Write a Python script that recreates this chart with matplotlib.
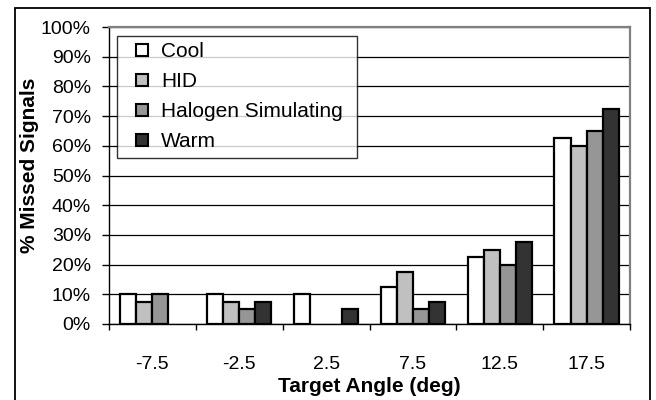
import numpy as np
import matplotlib
matplotlib.use("Agg")
import matplotlib.pyplot as plt
from matplotlib.lines import Line2D
from matplotlib.patches import Rectangle

plt.rcParams['font.family'] = ['Liberation Sans', 'DejaVu Sans']

# missed signal rates (%) per target angle, None = no bar
angles = ['-7.5', '-2.5', '2.5', '7.5', '12.5', '17.5']
cool = [10, 10, 10, 12.5, 22.5, 62.5]
hid = [7.5, 7.5, None, 17.5, 25, 60]
halogen = [10, 5, None, 5, 20, 65]
warm = [None, 7.5, 5, 7.5, 27.5, 72.5]

series = [('Cool', cool, '#ffffff'),
          ('HID', hid, '#c0c0c0'),
          ('Halogen Simulating', halogen, '#969696'),
          ('Warm', warm, '#333333')]

fig = plt.figure(figsize=(6.56, 4.0), dpi=100)
ax = fig.add_axes([109/656, 1 - 324/400, 521/656, 297/400])

bw = 0.185
x = np.arange(len(angles))
handles = []
for i, (name, vals, col) in enumerate(series):
    xs = [xi + (i - 1.5) * bw for xi, v in zip(x, vals) if v is not None]
    hs = [v for v in vals if v is not None]
    ax.bar(xs, hs, width=bw, color=col, edgecolor='black', linewidth=1.6, zorder=3)
    handles.append(Line2D([], [], linestyle='none', marker='s', markersize=9,
                          markerfacecolor=col, markeredgecolor='black',
                          markeredgewidth=1.5, label=name))

ax.set_xlim(-0.5, len(angles) - 0.5)
ax.set_ylim(0, 100)
ax.set_yticks(np.arange(0, 101, 10))
ax.set_yticklabels(['%d%%' % v for v in range(0, 101, 10)])
ax.set_xticks(x)
ax.set_xticklabels(angles)
ax.set_xticks(np.arange(-0.5, len(angles), 1), minor=True)

ax.tick_params(axis='y', direction='out', length=5, width=1, pad=8, labelsize=14)
ax.tick_params(axis='x', which='major', length=0, pad=23, labelsize=14)
ax.tick_params(axis='x', which='minor', direction='out', length=4.5, width=1)

ax.yaxis.grid(True, color='black', linewidth=0.9)
ax.set_axisbelow(True)

for s in ['top', 'right']:
    ax.spines[s].set_color('#808080')
    ax.spines[s].set_linewidth(1.6)
for s in ['left', 'bottom']:
    ax.spines[s].set_color('black')
    ax.spines[s].set_linewidth(1.0)

ax.set_ylabel('% Missed Signals', fontsize=15, fontweight='bold')
ax.yaxis.set_label_coords(-0.134, 0.535)
ax.set_xlabel('Target Angle (deg)', fontsize=15, fontweight='bold')
ax.xaxis.set_label_coords(0.5, -0.178)

leg = ax.legend(handles=handles, loc='upper left',
                bbox_to_anchor=(0.0154, 0.5, 0.4607, 0.47), mode='expand',
                borderaxespad=0, fontsize=15, frameon=True, fancybox=False,
                edgecolor='black', borderpad=0.3, labelspacing=0.53,
                handlelength=1.8, handletextpad=0.0)
leg.get_frame().set_linewidth(1.0)

# border round the whole chart
fig.patches.append(Rectangle((15/656, -0.05), (650 - 15)/656, 1.05 - 8/400,
                             transform=fig.transFigure, fill=False,
                             edgecolor='black', linewidth=1.3))

fig.savefig('out.png', dpi=100)
